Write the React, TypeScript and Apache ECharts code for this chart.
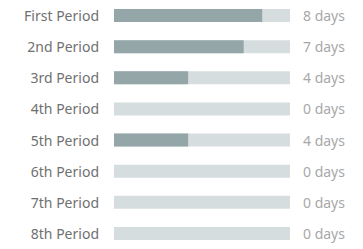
import React, { useEffect, useRef } from "react";
import * as echarts from "echarts";

const categories = ["First Period", "2nd Period", "3rd Period", "4th Period", "5th Period", "6th Period", "7th Period", "8th Period"];
const days = [8, 7, 4, 0, 4, 0, 0, 0];
const axisMax = 9.5;

export default function App() {
  const ref = useRef<HTMLDivElement>(null);
  useEffect(() => {
    const chart = echarts.init(ref.current!, null, { renderer: "svg" });
    chart.setOption({
      animation: false,
      grid: { left: 114, right: 73, top: -2, height: 258, containLabel: false },
      xAxis: { type: "value", min: 0, max: axisMax, show: false },
      yAxis: [
        {
          type: "category",
          data: categories,
          inverse: true,
          axisLine: { show: false },
          axisTick: { show: false },
          splitLine: { show: false },
          axisLabel: { color: "#707070", fontSize: 14, margin: 15, fontFamily: "Noto Sans" },
        },
        {
          type: "category",
          position: "right",
          data: days.map((d) => d + " days"),
          inverse: true,
          axisLine: { show: false },
          axisTick: { show: false },
          splitLine: { show: false },
          axisLabel: { color: "#a8a8a8", fontSize: 14, margin: 13, align: "left", fontFamily: "Noto Sans" },
        },
      ],
      series: [
        {
          type: "bar",
          data: days,
          barWidth: 13,
          itemStyle: { color: "#95a6a9" },
          showBackground: true,
          backgroundStyle: { color: "#d6dddf" },
        },
      ],
    });
    return () => chart.dispose();
  }, []);
  return <div ref={ref} style={{ width: 363, height: 249, position: "absolute", left: 0, top: 0 }} />;
}
